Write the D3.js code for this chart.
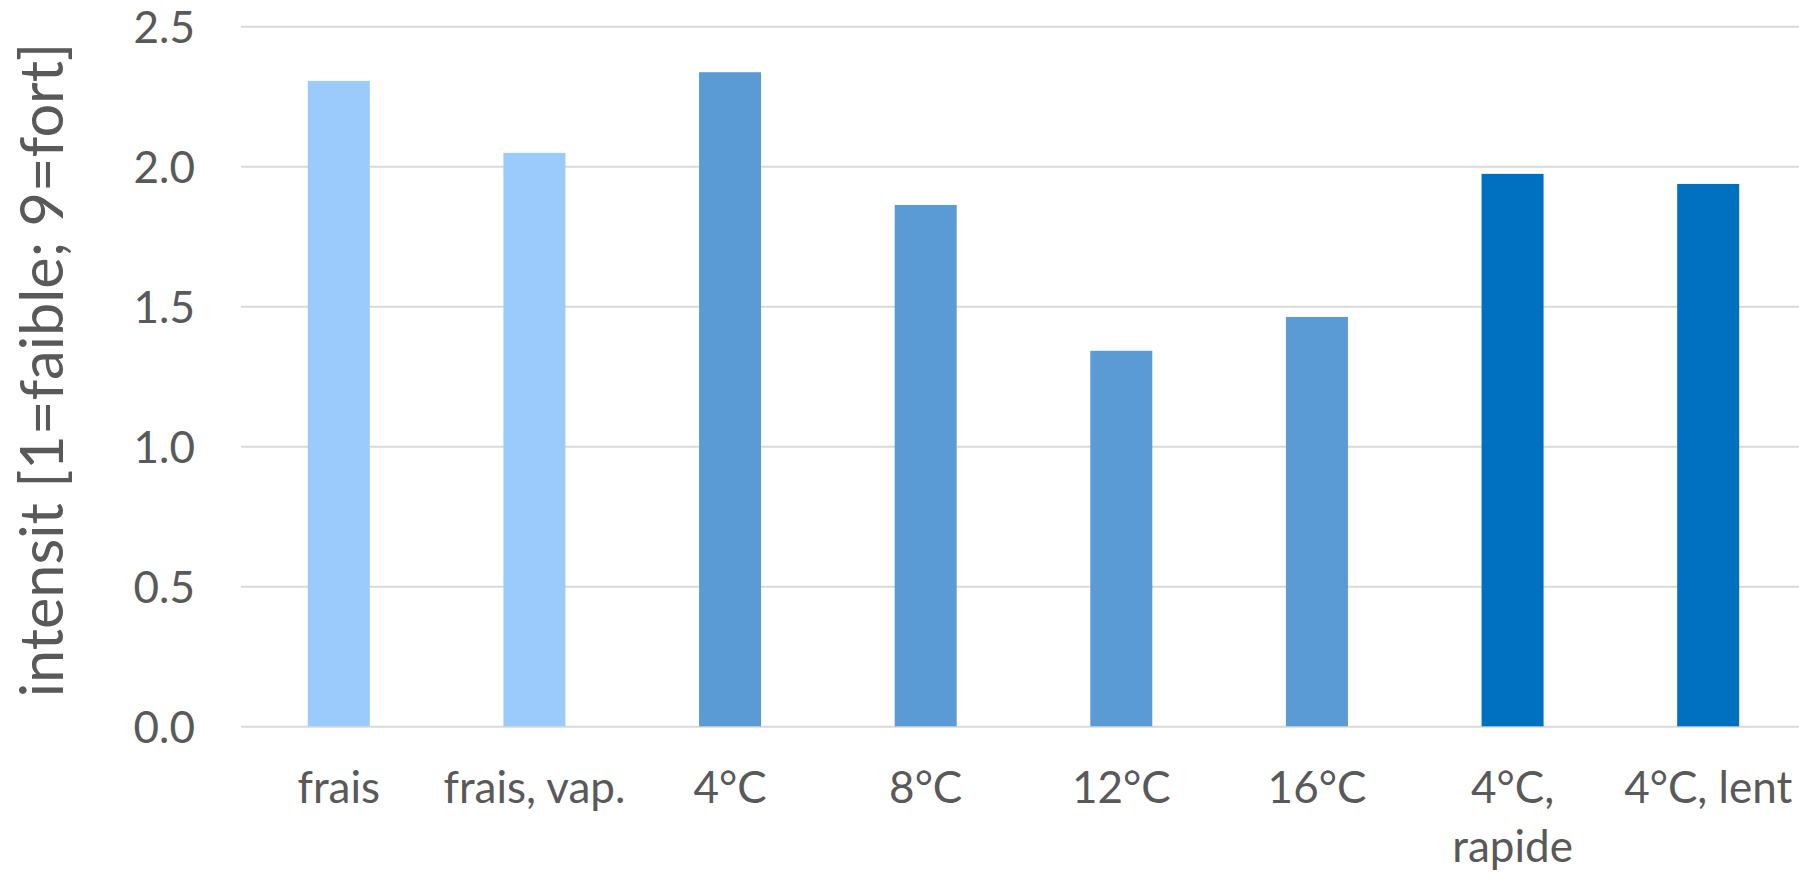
<!DOCTYPE html>
<html>
<head>
<meta charset="utf-8">
<script src="https://cdn.jsdelivr.net/npm/d3@7"></script>
<style>
  html, body { margin: 0; padding: 0; background: #ffffff; }
  svg { display: block; }
  text { font-family: Lato, "Open Sans", sans-serif; fill: #595959; }
</style>
</head>
<body>
<svg id="chart" width="1799" height="873"></svg>
<script>
// Categories and mean intensity per treatment
const categories = ["frais", "frais, vap.", "4°C", "8°C", "12°C", "16°C", "4°C, rapide", "4°C, lent"];
const intensity = [2.305, 2.048, 2.336, 1.862, 1.341, 1.462, 1.973, 1.937];
const groups = ["fresh", "fresh", "temp", "temp", "temp", "temp", "rate", "rate"];
const yTicks = [0, 0.5, 1.0, 1.5, 2.0, 2.5];
const yTitle = "intensit [1=faible; 9=fort]";

const groupColor = d3.scaleOrdinal()
  .domain(["fresh", "temp", "rate"])
  .range(["#9BCBFD", "#5B9BD5", "#0070C0"]);

const svg = d3.select("#chart");
const W = 1799;
const plot = { left: 241, right: 1806, top: 26.3, bottom: 726.3 };

const x = d3.scaleBand()
  .domain(categories)
  .range([plot.left, plot.right])
  .paddingInner(0.683)
  .paddingOuter(0.3415);

const y = d3.scaleLinear()
  .domain([0, 2.5])
  .range([plot.bottom, plot.top]);

// Horizontal gridlines
const grid = svg.append("g")
  .attr("transform", `translate(${plot.left},0)`)
  .call(d3.axisLeft(y).tickValues(yTicks).tickSize(-(W - plot.left)).tickFormat(""));
grid.select(".domain").remove();
grid.selectAll("line").attr("stroke", "#D9D9D9").attr("stroke-width", 2);

// Bars
svg.append("g")
  .selectAll("rect")
  .data(categories)
  .join("rect")
  .attr("x", d => x(d))
  .attr("width", x.bandwidth())
  .attr("y", (d, i) => y(intensity[i]))
  .attr("height", (d, i) => y(0) - y(intensity[i]))
  .attr("fill", (d, i) => groupColor(groups[i]));

// Y axis tick labels
const yAxis = svg.append("g")
  .attr("transform", `translate(${plot.left},0)`)
  .call(d3.axisLeft(y).tickValues(yTicks).tickSize(0).tickPadding(46).tickFormat(d3.format(".1f")));
yAxis.select(".domain").remove();
yAxis.selectAll("text")
  .attr("dy", "0.36em")
  .style("font-size", "44px")
  .style("font-family", "Lato, sans-serif")
  .attr("fill", "#595959");

// X axis category labels, wrapped to the band step
const xAxis = svg.append("g")
  .attr("transform", `translate(0,${plot.bottom})`)
  .call(d3.axisBottom(x).tickSize(0).tickPadding(45.5));
xAxis.select(".domain").remove();
xAxis.selectAll("text")
  .style("font-size", "44px")
  .style("font-family", "Lato, sans-serif")
  .attr("fill", "#595959")
  .each(function () {
    const t = d3.select(this);
    const words = t.text().split(/\s+/);
    const yPos = t.attr("y");
    const maxW = x.step();
    t.text(null);
    let line = [];
    let lineNo = 0;
    let tspan = t.append("tspan").attr("x", 0).attr("y", yPos).attr("dy", "0.71em");
    words.forEach(w => {
      line.push(w);
      tspan.text(line.join(" "));
      if (tspan.node().getComputedTextLength() > maxW && line.length > 1) {
        line.pop();
        tspan.text(line.join(" "));
        line = [w];
        lineNo += 1;
        tspan = t.append("tspan").attr("x", 0).attr("y", yPos)
          .attr("dy", (0.71 + lineNo * 1.33) + "em").text(w);
      }
    });
  });

// Y axis title
svg.append("text")
  .attr("transform", `translate(63,370) rotate(-90)`)
  .attr("text-anchor", "middle")
  .style("font-size", "59.5px")
  .text(yTitle);
</script>
</body>
</html>
